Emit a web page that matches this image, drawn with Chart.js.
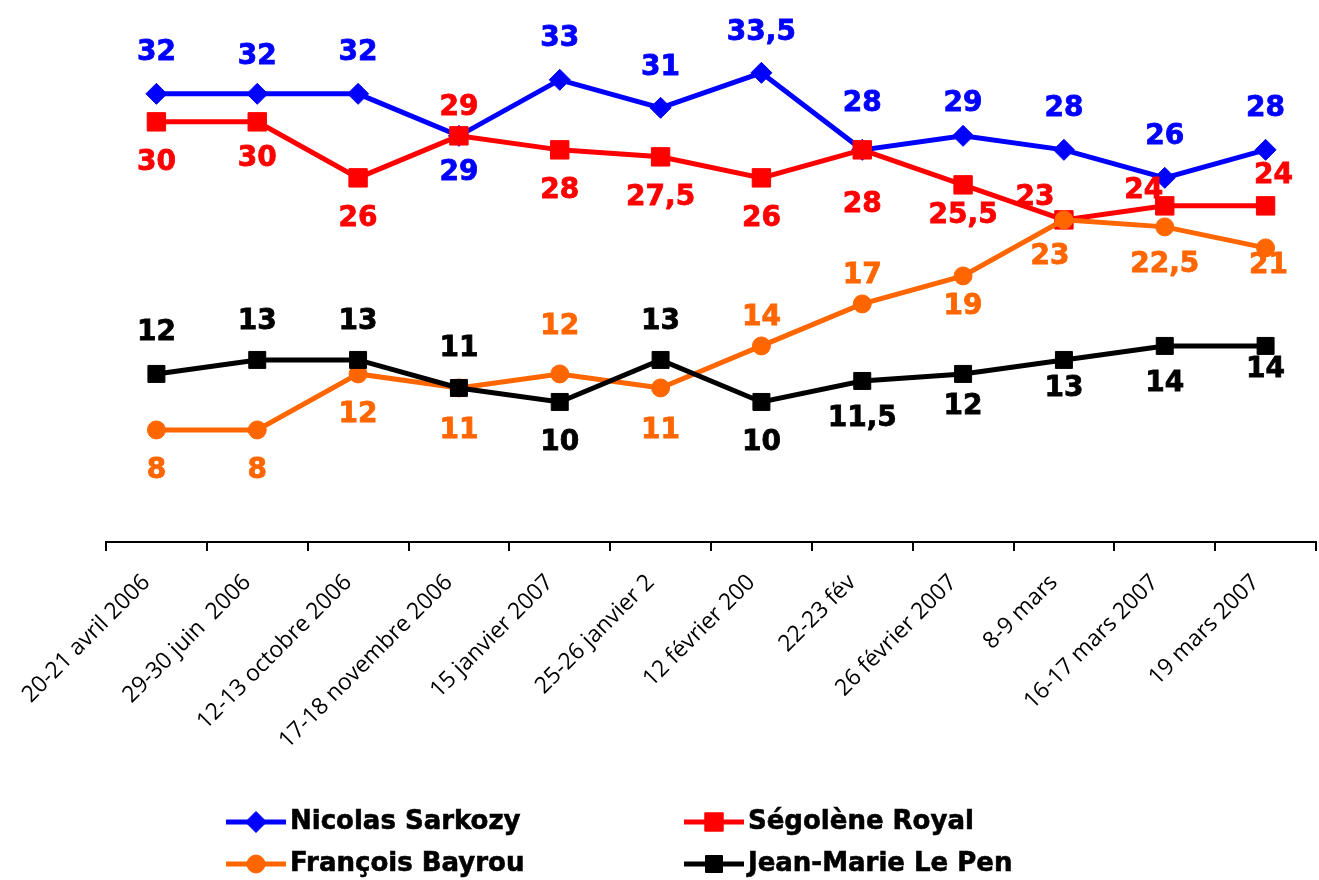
<!DOCTYPE html>
<html>
<head>
<meta charset="utf-8">
<script src="https://cdn.jsdelivr.net/npm/chart.js@4"></script>
<style>
  body { margin: 0; overflow: hidden; background: #fff; }
</style>
</head>
<body>
<canvas id="chart" width="1330" height="880"></canvas>
<script>
const dates = [
  "20-21 avril 2006", "29-30 juin  2006", "12-13 octobre 2006", "17-18 novembre 2006",
  "15 janvier 2007", "25-26 janvier 2", "12 février 200", "22-23 fév",
  "26 février 2007", "8-9 mars", "16-17 mars 2007", "19 mars 2007"
];
const sarkozy = [32, 32, 32, 29, 33, 31, 33.5, 28, 29, 28, 26, 28];
const royal = [30, 30, 26, 29, 28, 27.5, 26, 28, 25.5, 23, 24, 24];
const bayrou = [8, 8, 12, 11, 12, 11, 14, 17, 19, 23, 22.5, 21];
const lePen = [12, 13, 13, 11, 10, 13, 10, 11.5, 12, 13, 14, 14];

// label offsets (px) from each point
const sarkozyDy = [-41, -37, -41, 37, -41, -40, -40, -46, -32, -41, -41, -41];
const royalDy = [41, 37, 41, -28, 41, 41, 41, 55, 31, -22, -15, -30];
const royalDx = [0, 0, 0, 0, 0, 0, 0, 0, 0, -29, -21, 8];
const bayrouDy = [41, 41, 41, 43, -47, 43, -28, -28, 31, 37, 38, 18];
const bayrouDx = [0, 0, 0, 0, 0, 0, 0, 0, 0, -14, 0, 3];
const lePenDy = [-41, -38, -38, -39, 41, -38, 41, 38, 33, 29, 38, 24];
const zeros = dates.map(() => 0);

const labelPlugin = {
  id: "pointLabels",
  afterDatasetsDraw(chart) {
    const ctx = chart.ctx;
    ctx.save();
    ctx.font = 'bold 28px "DejaVu Sans"';
    ctx.textAlign = "center";
    ctx.textBaseline = "middle";
    ctx.lineWidth = 0.8;
    chart.data.datasets.forEach((ds, i) => {
      const meta = chart.getDatasetMeta(i);
      ctx.fillStyle = ds.borderColor;
      ctx.strokeStyle = ds.borderColor;
      meta.data.forEach((pt, j) => {
        const txt = String(ds.data[j]).replace(".", ",");
        const x = pt.x + ds.labelDx[j];
        const y = pt.y + ds.labelDy[j];
        ctx.fillText(txt, x, y);
        ctx.strokeText(txt, x, y);
      });
    });
    ctx.restore();
  }
};

const legendPlugin = {
  id: "lineLegend",
  afterDraw(chart) {
    const ctx = chart.ctx;
    const spots = [[226, 822], [684, 822], [226, 864], [684, 864]];
    ctx.save();
    chart.data.datasets.forEach((ds, k) => {
      const [x, y] = spots[k];
      ctx.strokeStyle = ds.borderColor;
      ctx.lineWidth = 5;
      ctx.beginPath();
      ctx.moveTo(x, y);
      ctx.lineTo(x + 60, y);
      ctx.stroke();
      ctx.fillStyle = ds.borderColor;
      ctx.lineWidth = 1;
      Chart.helpers.drawPoint(ctx, {
        pointStyle: ds.pointStyle,
        radius: ds.pointRadius,
        borderWidth: 1,
        rotation: 0
      }, x + 30, y);
      ctx.fillStyle = "#000";
      ctx.strokeStyle = "#000";
      ctx.lineWidth = 0.6;
      ctx.font = 'bold 26px "DejaVu Sans"';
      ctx.textBaseline = "middle";
      ctx.textAlign = "left";
      ctx.fillText(ds.label, x + 64, y);
      ctx.strokeText(ds.label, x + 64, y);
    });
    ctx.restore();
  }
};

function series(label, data, color, style, radius, order, dy, dx) {
  return {
    label: label,
    data: data,
    borderColor: color,
    backgroundColor: color,
    pointBackgroundColor: color,
    pointBorderColor: color,
    borderWidth: 5,
    pointStyle: style,
    pointRadius: radius,
    pointBorderWidth: 1,
    tension: 0,
    order: order,
    clip: false,
    labelDy: dy,
    labelDx: dx
  };
}

new Chart(document.getElementById("chart"), {
  type: "line",
  data: {
    labels: dates,
    datasets: [
      series("Nicolas Sarkozy", sarkozy, "#0000FF", "rectRot", 10.5, 4, sarkozyDy, zeros),
      series("Ségolène Royal", royal, "#FF0000", "rect", 13, 3, royalDy, royalDx),
      series("François Bayrou", bayrou, "#FF6600", "circle", 9, 2, bayrouDy, bayrouDx),
      series("Jean-Marie Le Pen", lePen, "#000000", "rect", 12, 1, lePenDy, zeros)
    ]
  },
  options: {
    responsive: false,
    animation: false,
    devicePixelRatio: 1,
    layout: { padding: { top: 5, left: 106, right: 5, bottom: 100 } },
    plugins: {
      legend: { display: false },
      tooltip: { enabled: false }
    },
    scales: {
      x: {
        offset: true,
        grid: {
          offset: true,
          drawOnChartArea: false,
          drawTicks: true,
          tickLength: 9,
          color: "#000",
          lineWidth: 2
        },
        border: { display: true, color: "#000", width: 2 },
        ticks: {
          color: "#000",
          font: { family: "Open Sans", size: 23 },
          minRotation: 45,
          maxRotation: 45,
          autoSkip: false,
          padding: 18,
          labelOffset: -10
        },
        afterFit(scale) {
          scale.height = 238;
          scale.paddingLeft = 0;
          scale.paddingRight = 0;
        }
      },
      y: {
        display: false,
        min: 0,
        max: 37.7
      }
    }
  },
  plugins: [labelPlugin, legendPlugin]
});
</script>
</body>
</html>
